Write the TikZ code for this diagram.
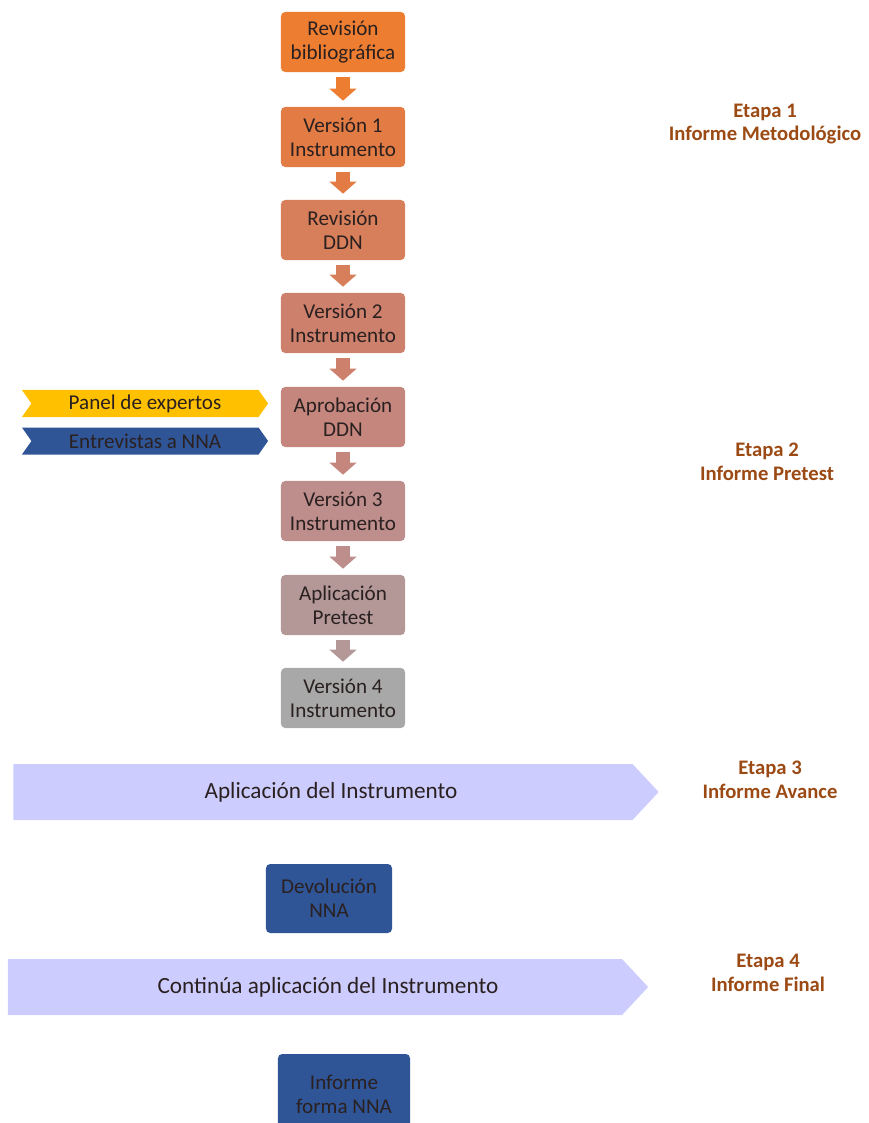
\documentclass[tikz,border=0pt]{standalone}
\usepackage{fontspec}
\setmainfont{Carlito}
\usepackage{xcolor}
\usetikzlibrary{arrows.meta,shapes.symbols}

\definecolor{pasoA}{RGB}{237,125,49}
\definecolor{pasoB}{RGB}{226,124,68}
\definecolor{pasoC}{RGB}{214,127,90}
\definecolor{pasoD}{RGB}{205,128,108}
\definecolor{pasoE}{RGB}{196,134,125}
\definecolor{pasoF}{RGB}{189,142,140}
\definecolor{pasoG}{RGB}{180,152,152}
\definecolor{pasoH}{RGB}{168,168,168}
\definecolor{amarillo}{RGB}{255,192,0}
\definecolor{azul}{RGB}{47,85,151}
\definecolor{lavanda}{RGB}{204,204,255}
\definecolor{etapac}{RGB}{156,74,20}
\definecolor{textoc}{RGB}{42,32,32}

\begin{document}
\begin{tikzpicture}[x=0.025cm, y=-0.025cm,
  paso/.style={rectangle, rounded corners=3pt, minimum width=3.1cm, minimum height=1.5cm,
    align=center, text=textoc, inner sep=1pt, font=\fontsize{15}{17}\selectfont},
  flecha/.style={line width=0.33cm, -{Triangle[width=0.66cm,length=0.3cm]},
    shorten <=0.12cm, shorten >=0.15cm},
  cheuron/.style={signal, signal from=west, signal to=east, signal pointer angle=110,
    minimum width=6.15cm, minimum height=0.675cm, inner sep=0pt, text=textoc,
    font=\fontsize{15}{17}\selectfont},
  fase/.style={signal, signal to=east, signal pointer angle=94, fill=lavanda,
    minimum height=1.4cm, inner sep=0pt, text=textoc, font=\fontsize{16.5}{19}\selectfont},
  etapa/.style={align=center, text=etapac, font=\bfseries\fontsize{14.7}{17}\selectfont}]
\useasboundingbox (0,0) rectangle (868,1123);

% Drawing instrument steps
\node[paso, fill=pasoA] (revbib) at (343,42) {Revisión\\bibliográfica};
\node[paso, fill=pasoB] (ver1) at (343,137) {Versión 1\\Instrumento};
\node[paso, fill=pasoC] (revddn) at (343,230) {Revisión\\DDN};
\node[paso, fill=pasoD] (ver2) at (343,323) {Versión 2\\Instrumento};
\node[paso, fill=pasoE] (aprob) at (343,417) {Aprobación\\DDN};
\node[paso, fill=pasoF] (ver3) at (343,511) {Versión 3\\Instrumento};
\node[paso, fill=pasoG] (pretest) at (343,605) {Aplicación\\Pretest};
\node[paso, fill=pasoH] (ver4) at (343,698) {Versión 4\\Instrumento};

% Drawing block arrows
\draw[flecha, pasoA] (revbib) -- (ver1);
\draw[flecha, pasoB] (ver1) -- (revddn);
\draw[flecha, pasoC] (revddn) -- (ver2);
\draw[flecha, pasoD] (ver2) -- (aprob);
\draw[flecha, pasoE] (aprob) -- (ver3);
\draw[flecha, pasoF] (ver3) -- (pretest);
\draw[flecha, pasoG] (pretest) -- (ver4);

% Drawing inputs to approval
\node[cheuron, fill=amarillo] (panel) at (145,403.5) {Panel de expertos};
\node[cheuron, fill=azul] (entrev) at (145,441) {Entrevistas a NNA};

% Drawing application phases
\node[fase, minimum width=16.125cm] (aplic) at (323,792) {\hspace*{0.4cm}Aplicación del Instrumento};
\node[paso, fill=azul, minimum width=3.15cm, minimum height=1.725cm] (devol) at (329,898.5) {Devolución\\NNA};
\node[fase, minimum width=16cm] (contin) at (315,987) {\hspace*{0.65cm}Continúa aplicación del Instrumento};
\node[paso, fill=azul, minimum width=3.3cm, minimum height=2cm] (infnna) at (344,1094) {Informe\\forma NNA};

% Drawing stage labels
\node[etapa] (etapa1) at (765,124) {Etapa 1\\Informe Metodológico};
\node[etapa] (etapa2) at (767,462) {Etapa 2\\Informe Pretest};
\node[etapa] (etapa3) at (770,780) {Etapa 3\\Informe Avance};
\node[etapa] (etapa4) at (768,973) {Etapa 4\\Informe Final};
\end{tikzpicture}
\end{document}
